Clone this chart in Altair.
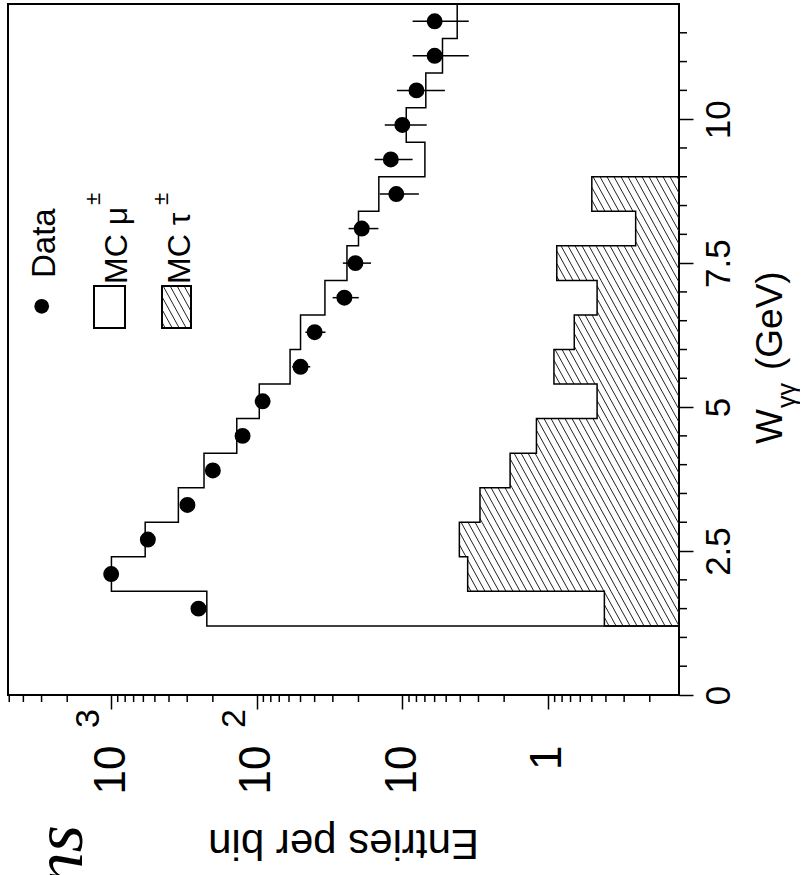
import math
import altair as alt
import pandas as pd

# ---------------------------------------------------------------- data
# W_gamma-gamma bins (GeV): lower edges, 0.6 GeV wide
bin_lo = [1.2, 1.8, 2.4, 3.0, 3.6, 4.2, 4.8, 5.4, 6.0, 6.6, 7.2, 7.8, 8.4, 9.0, 9.6, 10.2, 10.8, 11.4]
BIN_W = 0.6

data_n = [251, 998, 559, 299, 200, 125, 91, 50, 40, 25, 21, 19, 11, 12, 10, 8, 6, 6]
data_err = [16, 32, 24, 17, 14, 11, 9.5, 7.1, 6.3, 5.1, 4.6, 4.4, 3.3, 3.5, 3.2, 2.9, 2.5, 2.5]
mc_mu = [220, 994, 583, 345, 230, 137, 96, 59, 50, 34, 24, 20, 14.5, 7.0, 9.4, 6.9, 5.3, 4.2]
mc_tau = [0.41, 3.56, 4.06, 2.93, 1.82, 1.20, 0.46, 0.91, 0.66, 0.46, 0.87, 0.25, 0.50, 0, 0, 0, 0, 0]

# axis ticks
major_n = [1, 10, 100, 1000]
minor_n = [0.2, 0.3, 0.4, 0.5, 0.6, 0.7, 0.8, 0.9,
           2, 3, 4, 5, 6, 7, 8, 9,
           20, 30, 40, 50, 60, 70, 80, 90,
           200, 300, 400, 500, 600, 700, 800, 900,
           2000, 3000, 4000, 5000]
exp_n = [1000, 100]
exp_txt = ["3", "2"]
major_w = [0, 2.5, 5, 7.5, 10]
minor_w = [0.5, 1, 1.5, 2, 3, 3.5, 4, 4.5, 5.5, 6, 6.5, 7, 8, 8.5, 9, 9.5, 10.5, 11, 11.5]

# ---------------------------------------------------------------- layout
PLOT_W, PLOT_H = 671, 691
W_MIN, W_MAX = 0.0, 12.0
N_MIN, N_MAX = 0.126, 5100.0
LMIN, LMAX = math.log10(N_MIN), math.log10(N_MAX)
FONT = "Liberation Sans"

xscale = alt.Scale(type="log", domain=[N_MIN, N_MAX], reverse=True, nice=False)
yscale = alt.Scale(domain=[W_MIN, W_MAX], nice=False, zero=False)

# both axes are defined once and shared by every layer that encodes them
AX_X = alt.Axis(
    values=major_n, orient="bottom", title=None, domain=False, grid=False,
    tickSize=14, tickWidth=1.5, tickColor="black",
    labelExpr="datum.value == 1 ? '1' : '10'", labelAngle=270,
    labelAlign="right", labelBaseline="middle", labelFont=FONT,
    labelFontSize=44, labelColor="black", labelPadding=36,
    labelFlush=False, labelOverlap=False, labelBound=False)
AX_Y = alt.Axis(
    values=major_w, orient="right", title=None, domain=False, grid=False,
    tickSize=14, tickWidth=1.5, tickColor="black",
    labelExpr="datum.value + ''", labelAngle=270,
    labelAlign="center", labelBaseline="top", labelFont=FONT,
    labelFontSize=35, labelColor="black", labelPadding=8,
    labelFlush=False, labelOverlap=False, labelBound=False)


def X(field):
    return alt.X(field, scale=xscale, axis=AX_X)


def Y(field):
    return alt.Y(field, scale=yscale, axis=AX_Y)


def px_x(v):
    return (LMAX - math.log10(v)) / (LMAX - LMIN) * PLOT_W


def px_y(w):
    return (W_MAX - w) / (W_MAX - W_MIN) * PLOT_H


def inv_x(x):
    return 10 ** (LMAX - x / PLOT_W * (LMAX - LMIN))


def inv_y(y):
    return W_MAX - y / PLOT_H * (W_MAX - W_MIN)


# hatch style: lines x = c + k*y in screen space
HATCH_STEP = 7.0
HATCH_K = 0.55


def hatch(rects):
    segs = []
    cmin = min(r[0] - HATCH_K * r[3] for r in rects)
    cmax = max(r[1] - HATCH_K * r[2] for r in rects)
    c = math.floor(cmin / HATCH_STEP) * HATCH_STEP
    while c <= cmax:
        for x0, x1, y0, y1 in rects:
            ya = max(y0, (x0 - c) / HATCH_K)
            yb = min(y1, (x1 - c) / HATCH_K)
            if yb > ya:
                segs.append({"xa": inv_x(c + HATCH_K * ya), "ya": inv_y(ya),
                             "xb": inv_x(c + HATCH_K * yb), "yb": inv_y(yb)})
        c += HATCH_STEP
    return pd.DataFrame(segs)


def step_outline(values):
    pts = [(N_MIN, bin_lo[0])]
    for lo, v in zip(bin_lo, values):
        if v > 0:
            pts += [(v, lo), (v, lo + BIN_W)]
        else:
            if pts[-1][0] != N_MIN:
                pts.append((N_MIN, lo))
            break
    return pd.DataFrame({"n": [p[0] for p in pts], "w": [p[1] for p in pts],
                         "i": list(range(len(pts)))})


# ---------------------------------------------------------------- histogram layers
tau_rects = [(px_x(v), PLOT_W, px_y(lo + BIN_W), px_y(lo))
             for lo, v in zip(bin_lo, mc_tau) if v > 0]
tau_hatch = alt.Chart(hatch(tau_rects)).mark_rule(color="#222", strokeWidth=1).encode(
    x=X("xa:Q"), x2="xb:Q", y=Y("ya:Q"), y2="yb:Q")

tau_line = alt.Chart(step_outline(mc_tau)).mark_line(color="black", strokeWidth=1.5).encode(
    x=X("n:Q"), y=Y("w:Q"), order="i:Q")

mu_line = alt.Chart(step_outline(mc_mu)).mark_line(color="black", strokeWidth=1.5).encode(
    x=X("n:Q"), y=Y("w:Q"), order="i:Q")

pts_df = pd.DataFrame({
    "w": [lo + BIN_W / 2 for lo in bin_lo],
    "n": data_n,
    "lo": [n - e for n, e in zip(data_n, data_err)],
    "hi": [n + e for n, e in zip(data_n, data_err)],
})
err_bars = alt.Chart(pts_df).mark_rule(color="black", strokeWidth=1.5).encode(
    x=X("lo:Q"), x2="hi:Q", y=Y("w:Q"))
points = alt.Chart(pts_df).mark_circle(color="black", opacity=1, size=254).encode(
    x=X("n:Q"), y=Y("w:Q"))

# ---------------------------------------------------------------- minor ticks & exponents
minor_x = alt.Chart(pd.DataFrame({"n": minor_n})).mark_rule(color="black", strokeWidth=1.5).encode(
    x=X("n:Q"), y=alt.value(PLOT_H), y2=alt.value(PLOT_H + 7))
minor_y = alt.Chart(pd.DataFrame({"w": minor_w})).mark_rule(color="black", strokeWidth=1.5).encode(
    y=Y("w:Q"), x=alt.value(PLOT_W), x2=alt.value(PLOT_W + 8))
exponents = alt.Chart(pd.DataFrame({"n": exp_n, "t": exp_txt})).mark_text(
    font=FONT, fontSize=34, angle=270, align="right", baseline="middle",
    dy=-22, color="black").encode(
    x=X("n:Q"), y=alt.value(PLOT_H + 14), text="t:N")

# ---------------------------------------------------------------- legend and titles
one = pd.DataFrame({"k": [0]})


def label(txt, x, y, size, align="left", angle=270, baseline="alphabetic",
          font=FONT, style="normal"):
    return alt.Chart(one).mark_text(
        text=txt, font=font, fontSize=size, fontStyle=style, angle=angle,
        align=align, baseline=baseline, color="black").encode(
        x=alt.value(x), y=alt.value(y))


leg_dot = alt.Chart(one).mark_circle(color="black", opacity=1, size=216).encode(
    x=alt.value(33.7), y=alt.value(302.3))
leg_mu_box = alt.Chart(one).mark_rect(fill="white", stroke="black", strokeWidth=2).encode(
    x=alt.value(86), x2=alt.value(117), y=alt.value(282), y2=alt.value(324))
leg_tau_hatch = alt.Chart(hatch([(154, 183, 282, 324)])).mark_rule(color="#222", strokeWidth=1).encode(
    x=X("xa:Q"), x2="xb:Q", y=Y("ya:Q"), y2="yb:Q")
leg_tau_box = alt.Chart(one).mark_rect(fill="white", fillOpacity=0, stroke="black", strokeWidth=2).encode(
    x=alt.value(154), x2=alt.value(183), y=alt.value(282), y2=alt.value(324))

texts = [
    label("Data", 47, 274, 33),
    label("MC \u03bc", 119, 280, 32),
    label("\u00b1", 92, 201, 22),
    label("MC \u03c4", 182, 280, 32),
    label("\u00b1", 160, 201, 22),
    # W_gammagamma axis title
    label("W", 774, 440, 37),
    label("\u03b3\u03b3", 787, 404, 25),
    label("(GeV)", 774, 366, 37),
    # count axis title
    label("Entries per bin", PLOT_W / 2, 839, 42, align="center", angle=180,
          baseline="middle"),
    label("ns", 74, 821, 70, align="right", font="Liberation Serif", style="italic"),
]

chart = alt.layer(
    tau_hatch, tau_line, mu_line, err_bars, points, minor_x, minor_y, exponents,
    leg_dot, leg_mu_box, leg_tau_hatch, leg_tau_box, *texts,
).properties(
    width=PLOT_W, height=PLOT_H,
    padding={"left": 8, "top": 1, "right": 0, "bottom": 0},
).configure_view(
    stroke="black", strokeWidth=2,
)

chart.save("out.html", embed_options={"renderer": "svg", "actions": False})
